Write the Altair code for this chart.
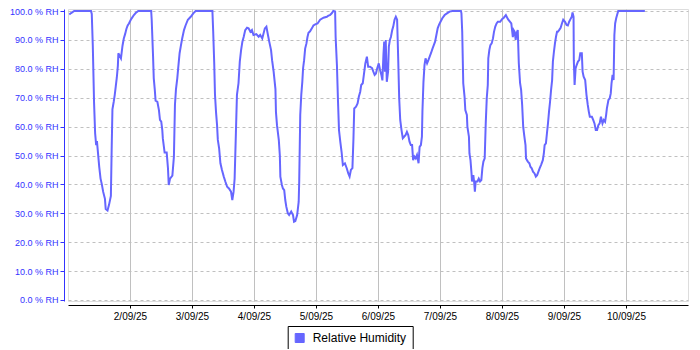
import altair as alt
import pandas as pd

# hours since 1/09/25 00:00 and relative humidity (%)
hours = [
    0.5, 1.2, 2.4, 8.9, 9.2, 9.6, 10.1, 10.5, 10.9, 11.2, 11.6, 12.1, 12.6, 13.1, 13.6, 14.3, 14.6, 15.3, 15.9, 16.6,
    16.9, 17.2, 17.7, 18.1, 18.5, 18.9, 19.3, 19.5, 20.0, 20.5, 21.1, 21.6, 22.1, 22.6, 23.1, 23.6, 24.3, 24.9, 25.5, 26.2,
    27.2, 32.2, 32.4, 32.9, 33.2, 33.6, 33.9, 34.6, 35.2, 35.6, 36.1, 36.5, 36.7, 37.4,
    38.2, 38.7, 39.0, 39.5, 40.4, 41.0, 41.4, 41.8, 42.3, 42.7, 43.2, 43.7, 44.2, 44.9, 45.5, 46.4, 47.5, 48.5, 49.4,
    55.9, 56.2, 56.6, 56.9, 57.3, 57.7, 58.0, 58.5, 59.0, 59.6, 60.3, 60.9, 61.6, 62.3, 63.1, 63.6, 64.1, 64.5, 65.0,
    65.4, 66.0, 66.5, 67.0, 67.5, 68.0, 68.6, 69.3, 69.9, 70.6, 71.2, 71.8, 72.9, 73.8, 74.4, 75.2,
    76.2, 76.8, 77.4, 77.9, 78.6, 79.0, 79.6, 80.3, 80.5, 80.9, 81.6, 82.0, 82.2, 82.8, 83.2, 83.7, 84.1, 84.5, 85.1,
    85.6, 86.4, 87.1, 87.5, 88.0, 88.7, 89.3, 89.5, 89.9, 90.3, 90.7, 91.0, 91.4, 91.8, 92.3, 92.7, 93.1, 93.7, 94.4,
    95.0, 95.7, 96.6, 97.6, 98.9, 100.2, 100.8, 101.4, 102.1, 102.7, 103.4, 103.6, 104.1, 104.5, 104.9, 105.4, 105.9,
    106.4, 107.2, 107.9, 108.5, 109.0, 109.5, 110.1, 110.5, 110.8, 111.5, 112.1, 112.6, 113.1, 113.5,
    114.1, 114.6, 115.1, 115.7, 116.2, 116.9, 117.7, 118.2, 118.7, 119.2, 119.7, 120.3, 120.8, 121.3, 121.7, 122.1,
    122.4, 122.7, 123.0, 123.4, 123.9, 124.2, 124.6, 125.0, 125.5, 125.9, 126.4, 126.9, 127.4, 127.8, 128.2, 128.6,
    129.1, 129.6, 130.1, 130.7, 131.2, 131.7, 132.2, 132.7, 133.2, 133.6, 134.1, 134.6, 135.1, 135.7, 136.1, 136.6,
    137.0, 137.2, 137.6, 138.0, 138.4, 139.0, 139.5, 140.0, 140.5, 141.1, 141.6, 142.1, 142.6, 143.1, 143.6, 144.2,
    144.9, 145.8, 146.7, 147.7, 148.8,
    152.1, 152.3, 152.6, 153.0, 153.5, 153.8, 154.4, 154.6, 155.2, 155.4, 155.8, 156.2, 156.4, 156.9, 157.2, 157.5,
    157.8, 158.5, 159.0, 159.5, 160.0, 160.4, 160.8, 161.3, 161.7, 162.1, 162.5, 162.7, 163.1, 163.5, 164.0, 164.5,
    164.9, 165.4, 165.9, 166.4, 167.3, 168.0, 168.7, 169.5, 170.3, 170.9, 171.6, 171.9, 172.2, 172.5, 172.9, 173.3,
    173.6, 174.1, 174.5, 175.0, 175.4, 175.8, 176.2, 176.6, 177.1, 177.3, 178.0, 178.6, 179.0, 179.5, 180.0, 180.6,
    181.1, 181.6, 182.1, 182.6, 183.1, 183.8, 184.2, 184.5, 185.0, 185.4, 185.8, 186.2, 186.6, 187.0, 187.4, 187.7,
    188.1, 188.5, 188.9, 189.3,
    189.6, 190.1, 190.7, 191.2, 191.7, 192.4, 193.0, 193.5, 194.0, 194.5, 195.0, 195.3, 195.7, 195.8, 196.1, 196.5,
    196.9, 197.4, 197.9, 198.3, 198.9, 199.2, 199.6, 200.2, 200.7, 201.2, 201.6, 202.0, 202.8, 203.3, 203.8, 204.3,
    204.8, 205.3, 205.8, 206.3, 206.9, 207.4, 207.9, 208.3, 208.6, 209.2, 209.7, 210.1, 210.4, 210.8, 211.2, 211.5,
    211.8, 212.2, 212.6, 213.0, 223.3,
]
rh = [
    98.8, 99.3, 100, 100, 99, 88, 68, 57.7, 53.6, 55, 51, 46, 42, 40, 37.5, 35, 31.5, 31, 33, 36,
    52, 66, 68.6, 71, 74, 77, 81, 85.4, 84.5, 83.6, 88, 90.5, 92, 93.8, 95, 95.7, 97, 97.8, 98.6, 99.3,
    100, 100, 97, 85, 76.7, 72.7, 69, 68.6, 65.7, 62.3, 61.7, 58.8, 56, 51,
    51, 45.6, 39.8, 42, 43, 49.6, 67.5, 73, 76.7, 80.7, 85.4, 88, 90.5, 93.4, 95, 97, 98, 99.2, 100,
    100, 93, 82, 71, 65, 60.5, 55.4, 52.5, 47.3, 45, 42.7, 41, 39.2, 38.6, 37.5, 34.6, 37.5, 42, 58,
    71, 75, 82.5, 86.5, 89.4, 91, 93.4, 94.2, 94, 92.8, 93.4, 91.7, 92, 91.1, 91.7, 90.5,
    94, 94.6, 91.7, 89.4, 86.5, 83, 79, 73, 65, 60.5, 55.4, 50, 42.7, 39.8, 38.6, 38, 34.6, 32.3, 30,
    29.4, 30.6, 29.4, 27.1, 27.3, 29.4, 34, 41, 64, 71, 75.5, 80.2, 83, 87, 88.8, 91, 92.5, 93, 94,
    95, 95.4, 95.7, 97, 97.7, 98, 98.4, 98.6, 99.2, 100, 99.8, 91, 81.3, 69.2, 58.8, 54.8, 51.3,
    46.7, 47.3, 45.6, 43.8, 42.7, 45, 45.6, 55.9, 66.3, 66.9, 68, 70.4, 72, 74.4,
    75, 78.4, 81.9, 84.2, 80.7, 80.7, 80.2, 79, 77.9, 78.4, 80.2, 81.9, 79.6, 77.9, 76, 84.8,
    89.4, 79, 90, 75.5, 79, 87.7, 90, 91, 93.4, 94.6, 97, 98, 97, 84.2, 69.8, 62.3,
    58.8, 56, 56.5, 57.1, 58.2, 57.1, 54.8, 53.6, 53.6, 48.4, 49.6, 49, 50.2, 47.3, 53, 53.6,
    56.5, 65.2, 75.5, 81.3, 83.6, 81.9, 83, 84.2, 85.4, 87, 88.2, 89.4, 91.7, 94, 95.2, 96.3,
    97.5, 98.6, 99.2, 99.8, 100,
    100, 99.2, 92.8, 75, 70.4, 65.7, 64, 60, 56.5, 50.7, 48.4, 43.8, 41, 43.2, 41, 37.5,
    41, 41, 42, 41, 41.5, 45.6, 47.9, 49, 61, 69.8, 74.4, 83.6, 86.5, 88.2, 88.8, 90.5,
    92.8, 94.6, 95.7, 96.3, 96.3, 97.2, 97.7, 98.6, 97.2, 96.5, 95.7, 93.4, 91, 93.4, 92.8, 90,
    92.2, 93.4, 82, 75, 72.7, 67.5, 60, 57, 53.6, 49, 47.9, 47.3, 46.1, 45.6, 44.4, 43.8,
    42.7, 43.2, 44.4, 45.6, 46.7, 48.4, 50.7, 53.6, 54.2, 57.7, 61.1, 65.2, 68.6, 72.7, 76.1, 82.5,
    85.9, 88.8, 91.1, 92.8,
    92.8, 93.4, 94.2, 95.7, 97, 96.3, 95.2, 95, 96.3, 97.2, 98, 99.5, 98, 83, 74.4, 80.2,
    81.3, 82.5, 83, 85.4, 85.4, 79, 77.3, 76.1, 71, 67.5, 65.2, 63.4, 63.4, 62.3, 61.1, 58.8,
    58.8, 60.5, 61.1, 63.4, 61.1, 62.3, 61.7, 64, 66.3, 69.2, 69.8, 71.5, 75, 77.9, 76.1, 91.7,
    95.7, 97.5, 98.8, 100, 100,
]
series_name = "Relative Humidity"
tick_days = [2, 3, 4, 5, 6, 7, 8, 9, 10]
y_ticks = [0, 10, 20, 30, 40, 50, 60, 70, 80, 90, 100]

start = pd.Timestamp("2025-09-01T00:00:00Z")
times = [(start + pd.Timedelta(hours=h)).strftime("%Y-%m-%dT%H:%M:%SZ") for h in hours]
df = pd.DataFrame({"time": times, "rh": rh, "series": series_name})

FONT = "Liberation Sans"
BLUE_AXIS = "#3333ff"
LINE = "#6666ff"

chart = (
    alt.Chart(df)
    .mark_line(strokeWidth=2, interpolate="linear")
    .encode(
        x=alt.X(
            "time:T",
            scale=alt.Scale(
                type="utc",
                domain=[
                    alt.DateTime(year=2025, month=9, date=1, utc=True),
                    alt.DateTime(year=2025, month=9, date=11, utc=True),
                ],
            ),
            axis=alt.Axis(
                values=[alt.DateTime(year=2025, month=9, date=d, utc=True) for d in tick_days],
                format="%-d/%m/%y",
                title=None,
                offset=4,
                domainColor="black",
                domainWidth=1,
                tickColor="black",
                tickSize=3,
                labelColor="black",
                labelFont=FONT,
                labelFontSize=10,
                labelPadding=3,
                labelFlush=False,
                labelOverlap=False,
                grid=True,
                gridColor="#c0c0c0",
                gridWidth=1,
            ),
        ),
        y=alt.Y(
            "rh:Q",
            scale=alt.Scale(domain=[-0.35, 100.7], nice=False, zero=False),
            axis=alt.Axis(
                values=y_ticks,
                labelExpr="format(datum.value, '.1f') + ' % RH'",
                title=None,
                offset=4,
                domainColor=BLUE_AXIS,
                domainWidth=1,
                tickColor=BLUE_AXIS,
                tickSize=4,
                labelColor=BLUE_AXIS,
                labelFont=FONT,
                labelFontSize=9,
                labelPadding=2,
                labelFlush=False,
                grid=True,
                gridColor="#c0c0c0",
                gridDash=[3, 3],
                gridWidth=1,
            ),
        ),
        color=alt.Color(
            "series:N",
            scale=alt.Scale(range=[LINE]),
            legend=alt.Legend(
                title=None,
                orient="none",
                legendX=219.7,
                legendY=317,
                symbolType="square",
                symbolSize=81,
                symbolFillColor=LINE,
                symbolStrokeColor="black",
                symbolStrokeWidth=1,
                symbolOpacity=1,
                labelFont=FONT,
                labelFontSize=12,
                labelColor="black",
                labelOffset=7,
                strokeColor="black",
                padding=6,
            ),
        ),
    )
    .properties(
        width=620,
        height=292,
        autosize=alt.AutoSizeParams(type="none"),
        padding={"left": 60, "top": 1, "right": 4, "bottom": 48},
    )
    .configure_view(stroke="#808080", strokeWidth=1.5)
    .configure(background="white")
)

chart.save("out.html", embed_options={"renderer": "svg", "actions": False})
